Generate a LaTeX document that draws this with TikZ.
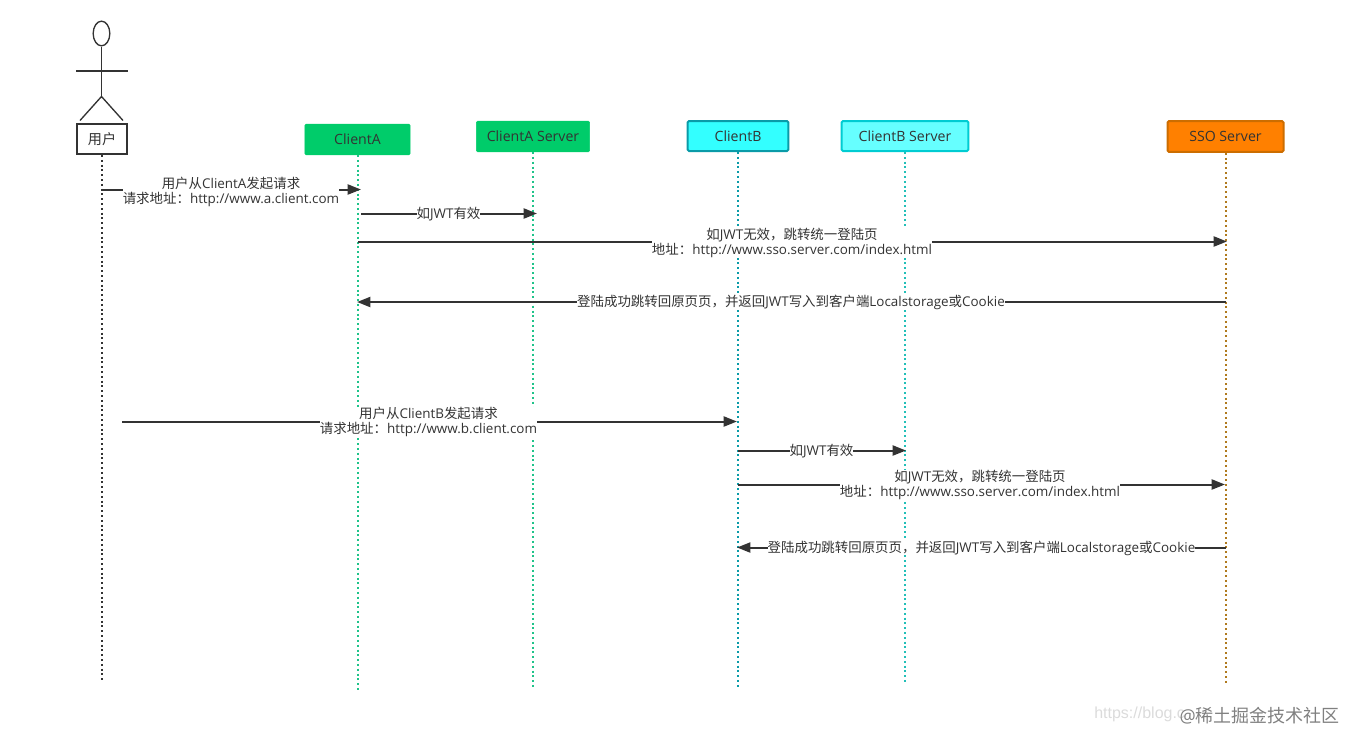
\documentclass[tikz,border=0pt]{standalone}
\usepackage{fontspec}
\setmainfont{Open Sans}
\newfontfamily\cjk{Noto Sans CJK SC}
\newfontfamily\wmfont{Liberation Sans}
\usetikzlibrary{arrows.meta,shapes.geometric}
\definecolor{ink}{HTML}{333333}
\definecolor{greenbox}{HTML}{00CC6A}
\definecolor{greenline}{HTML}{1FC38A}
\definecolor{cyana}{HTML}{33FFFF}
\definecolor{cyanab}{HTML}{0A9BA8}
\definecolor{cyanb}{HTML}{66FFFF}
\definecolor{cyanbb}{HTML}{00CCD2}
\definecolor{cyanline}{HTML}{22BFB8}
\definecolor{orangebox}{HTML}{FF8000}
\definecolor{orangeb}{HTML}{CC6D00}
\definecolor{orangeline}{HTML}{B07A1E}
\tikzset{
  pxunit/.style={x=0.75pt,y=-0.75pt},
  headbox/.style={draw,line width=1.5pt,rounded corners=1pt,inner sep=0pt,text=ink,font=\fontsize{10.6pt}{12pt}\selectfont},
  lifeline/.style={line width=1.3pt,dash pattern=on 1.5pt off 2.1pt},
  msg/.style={draw=ink,line width=1.5pt,-{Triangle[length=10pt,width=7.5pt]}},
  msglabel/.style={fill=white,text=ink,inner sep=0pt,align=center,font=\fontsize{10.08pt}{11.3pt}\selectfont},
  limb/.style={draw=ink,line width=1pt},
}
\begin{document}
\begin{tikzpicture}[pxunit]
\useasboundingbox (0,-0.5) rectangle (1346,731.5);
% actor
\node[draw=ink,line width=1pt,ellipse,minimum width=12.5pt,minimum height=18.5pt,inner sep=0pt] (head) at (101.5,33) {};
\coordinate (hip) at (101.5,96);
\coordinate (armL) at (76,70.5);
\coordinate (armR) at (127.5,70.5);
\coordinate (legL) at (80,120);
\coordinate (legR) at (123,120);
\draw[limb] (head.south) -- (hip);
\draw[limb] (armL) -- (armR);
\draw[limb] (legL) -- (hip) -- (legR);
% heads
\node[headbox,draw=ink,fill=white,minimum width=38pt,minimum height=22.5pt,rounded corners=0pt] (user) at (102,138.5) {\cjk 用户};
\node[headbox,draw=greenbox,fill=greenbox,minimum width=79pt,minimum height=23pt,line width=0.4pt] (ca) at (357.5,139) {ClientA};
\node[headbox,draw=greenbox,fill=greenbox,minimum width=85pt,minimum height=23pt,line width=0.4pt] (cas) at (533,136) {ClientA Server};
\node[headbox,draw=cyanab,fill=cyana,minimum width=75.5pt,minimum height=22.5pt] (cb) at (738,135.5) {ClientB};
\node[headbox,draw=cyanbb,fill=cyanb,minimum width=95pt,minimum height=22.5pt] (cbs) at (905,135.5) {ClientB Server};
\node[headbox,draw=orangeb,fill=orangebox,minimum width=87pt,minimum height=23pt] (sso) at (1225.5,136) {SSO Server};
% lifeline ends
\coordinate (userEnd) at (102,681);
\coordinate (caEnd) at (358,690);
\coordinate (casEnd) at (533,688);
\coordinate (cbEnd) at (738,688);
\coordinate (cbsEnd) at (905,684);
\coordinate (ssoEnd) at (1226,684);
\draw[lifeline,ink] (user.south) -- (userEnd);
\draw[lifeline,greenline] (ca.south -| caEnd) -- (caEnd);
\draw[lifeline,greenline] (cas.south -| casEnd) -- (casEnd);
\draw[lifeline,cyanab] (cb.south -| cbEnd) -- (cbEnd);
\draw[lifeline,cyanline] (cbs.south -| cbsEnd) -- (cbsEnd);
\draw[lifeline,orangeline] (sso.south -| ssoEnd) -- (ssoEnd);
% message ends
\coordinate (m1a) at (102,189); \coordinate (m1b) at (361,189);
\coordinate (m2a) at (361,213); \coordinate (m2b) at (537,213);
\coordinate (m3a) at (358,241); \coordinate (m3b) at (1227,241);
\coordinate (m4a) at (1226,301.5); \coordinate (m4b) at (357,301.5);
\coordinate (m5a) at (122,421); \coordinate (m5b) at (737,421);
\coordinate (m6a) at (738,450); \coordinate (m6b) at (906,450);
\coordinate (m7a) at (738,484); \coordinate (m7b) at (1225,484);
\coordinate (m8a) at (1226,547); \coordinate (m8b) at (737,547);
\draw[msg] (m1a) -- (m1b);
\draw[msg] (m2a) -- (m2b);
\draw[msg] (m3a) -- (m3b);
\draw[msg] (m4a) -- (m4b);
\draw[msg] (m5a) -- (m5b);
\draw[msg] (m6a) -- (m6b);
\draw[msg] (m7a) -- (m7b);
\draw[msg] (m8a) -- (m8b);
% labels
\node[msglabel] (l1) at (231,191) {{\cjk 用户从}ClientA{\cjk 发起请求}\\{\cjk 请求地址：}http://www.a.client.com};
\node[msglabel] (l2) at (448.5,214) {{\cjk 如}JWT{\cjk 有效}};
\node[msglabel] (l3) at (792,242.5) {{\cjk 如}JWT{\cjk 无效，跳转统一登陆页}\\{\cjk 地址：}http://www.sso.server.com/index.html};
\node[msglabel] (l4) at (791,302) {{\cjk 登陆成功跳转回原页页，并返回}JWT{\cjk 写入到客户端}Localstorage{\cjk 或}Cookie};
\node[msglabel] (l5) at (428.5,421.5) {{\cjk 用户从}ClientB{\cjk 发起请求}\\{\cjk 请求地址：}http://www.b.client.com};
\node[msglabel] (l6) at (821.5,451) {{\cjk 如}JWT{\cjk 有效}};
\node[msglabel] (l7) at (980,484.5) {{\cjk 如}JWT{\cjk 无效，跳转统一登陆页}\\{\cjk 地址：}http://www.sso.server.com/index.html};
\node[msglabel] (l8) at (981.5,547.5) {{\cjk 登陆成功跳转回原页页，并返回}JWT{\cjk 写入到客户端}Localstorage{\cjk 或}Cookie};
% watermark
\node[anchor=west,inner sep=0pt,text=black!14,font=\wmfont\fontsize{12pt}{14pt}\selectfont] (wm1) at (1094,714) {https://blog.c};
\node[anchor=east,inner sep=0pt,text=black!50,font=\fontsize{13.5pt}{15pt}\selectfont] (wm2) at (1340,715) {@{\cjk 稀土掘金技术社区}};
\end{tikzpicture}
\end{document}
